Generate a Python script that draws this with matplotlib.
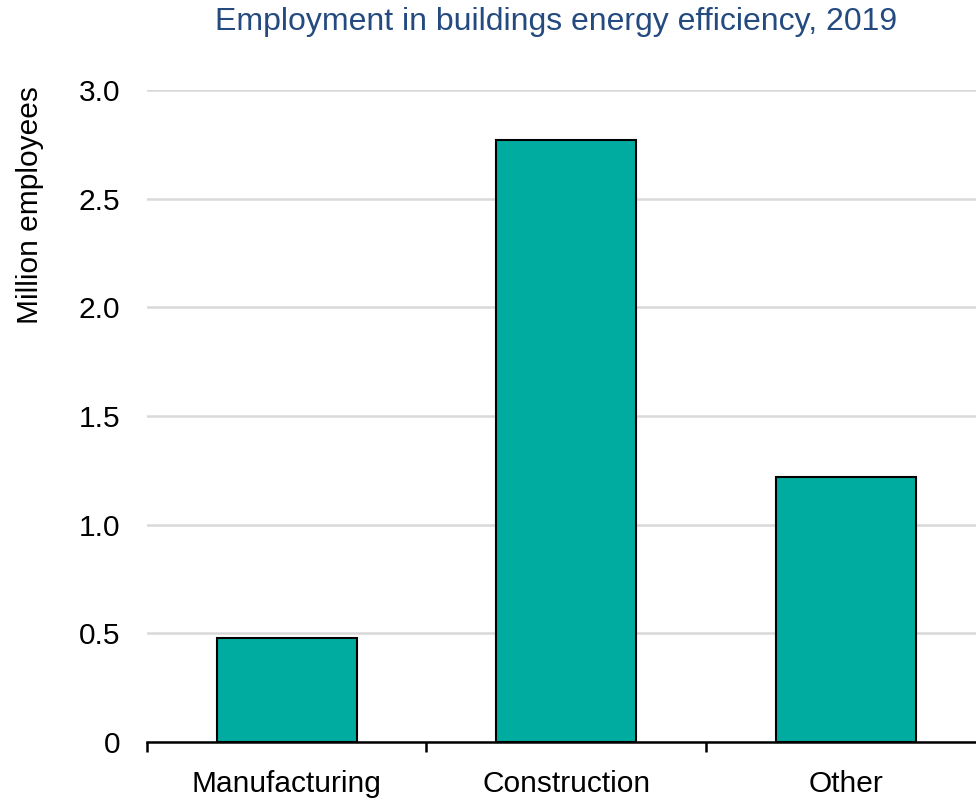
import numpy as np
import matplotlib.pyplot as plt
from matplotlib.ticker import FixedLocator, NullFormatter

plt.rcParams['font.family'] = ['Liberation Sans', 'DejaVu Sans']

# Data
categories = ['Manufacturing', 'Construction', 'Other']
employees = [0.48, 2.77, 1.22]
y_ticks = [0, 0.5, 1.0, 1.5, 2.0, 2.5, 3.0]
y_tick_labels = ['0', '0.5', '1.0', '1.5', '2.0', '2.5', '3.0']

BAR_COLOR = '#00AC9F'
TITLE_COLOR = '#244A80'

fig = plt.figure(figsize=(9.76, 8.02), dpi=100)
# axes run slightly past the right edge of the figure, as in the original
ax = fig.add_axes([0.1506, 0.0748, 0.859, 0.813])

x = np.arange(len(categories))
ax.bar(x, employees, width=0.5, color=BAR_COLOR, edgecolor='black',
       linewidth=1.5, zorder=3)

ax.set_xlim(-0.5, len(categories) - 0.5)
ax.set_ylim(0, 3.0)
ax.set_yticks(y_ticks)
ax.set_yticklabels(y_tick_labels, fontsize=21.5)
ax.tick_params(axis='y', length=0, pad=19.5)
ax.grid(True, axis='y', color='#D9D9D9', linewidth=1.8, zorder=0)

# category labels centred, tick marks at category boundaries
ax.set_xticks(x)
ax.set_xticklabels(categories, fontsize=21.5)
ax.tick_params(axis='x', which='major', length=0, pad=20)
ax.xaxis.set_minor_locator(FixedLocator(np.arange(-0.5, len(categories), 1.0)))
ax.xaxis.set_minor_formatter(NullFormatter())
ax.tick_params(axis='x', which='minor', length=7, width=1.8, color='black')

for side in ['top', 'right', 'left']:
    ax.spines[side].set_visible(False)
ax.spines['bottom'].set_linewidth(1.8)
ax.spines['bottom'].set_zorder(4)

fig.text(30 / 976, 1 - 205 / 802, 'Million employees', rotation=90,
         ha='center', va='center', fontsize=21.5)

fig.text(556 / 976, 1 - 22 / 802, 'Employment in buildings energy efficiency, 2019',
         ha='center', va='center', fontsize=23, color=TITLE_COLOR)

fig.savefig('out.png', dpi=100)
